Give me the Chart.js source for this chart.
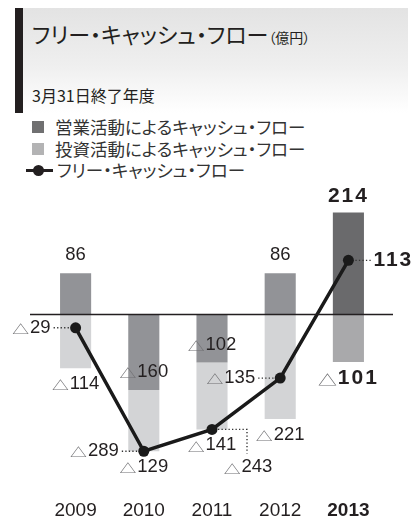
<!DOCTYPE html>
<html lang="ja">
<head>
<meta charset="utf-8">
<title>フリー・キャッシュ・フロー</title>
<script src="https://cdn.jsdelivr.net/npm/chart.js@4.4.1/dist/chart.umd.min.js"></script>
<style>
  html, body { margin: 0; padding: 0; background: #fff; }
  #wrap { position: relative; width: 416px; height: 522px; overflow: hidden;
          font-family: "Noto Sans CJK JP", sans-serif; color: #231f20; }
  #head { position: absolute; left: 15px; top: 8px; width: 393px; height: 105px;
          background: linear-gradient(to bottom, #e3e3e3 0%, #efefef 55%, #ffffff 100%); }
  #head .mark { position: absolute; left: 0; top: 0; width: 8px; height: 100%; background: #231f20; }
  #title { position: absolute; left: 17px; top: 11px; font-size: 22px; line-height: 28px;
           white-space: nowrap; font-feature-settings: "palt"; }
  #title small { font-size: 14px; }
  #sub { position: absolute; left: 17px; top: 76px; font-size: 16px; line-height: 22px; white-space: nowrap; }
  #legend .row { position: absolute; left: 0; height: 22px; line-height: 22px; font-size: 17.5px;
                 white-space: nowrap; font-feature-settings: "palt"; color: #333; }
  #legend .sw { position: absolute; left: 32px; top: 5px; width: 12px; height: 12px; }
  #chart { position: absolute; left: 0; top: 0; }
</style>
</head>
<body>
<div id="wrap">
  <div id="head">
    <div class="mark"></div>
    <div id="title">フリー・キャッシュ・フロー<small>（億円）</small></div>
    <div id="sub">3月31日終了年度</div>
  </div>
  <div id="legend"></div>
  <canvas id="chart" width="416" height="522"></canvas>
</div>
<script>
const years = ['2009', '2010', '2011', '2012', '2013'];
const operatingCF = [86, -160, -102, 86, 214];
const investingCF = [-114, -129, -141, -221, -101];
const freeCF = [-29, -289, -243, -135, 113];
const seriesNames = ['営業活動によるキャッシュ・フロー', '投資活動によるキャッシュ・フロー', 'フリー・キャッシュ・フロー'];

// last year is emphasised (darker bars, bold numbers)
const highlightIdx = 4;
// where the free cash flow number sits around its point
const freeLabelSide = ['left', 'left', 'elbow', 'left', 'right'];

const NUM_FONT = '"Liberation Sans", Arial, sans-serif';
const JP_FONT = '"Noto Sans CJK JP", sans-serif';
const INK = '#231f20';

const opColors = years.map((_, i) => i === highlightIdx ? '#6a6a6c' : '#929397');
const invColors = years.map((_, i) => i === highlightIdx ? '#a9a9ab' : '#d3d4d6');

// legend (html, like the printed report)
document.getElementById('legend').innerHTML = `
  <div class="row" style="top:116px"><span class="sw" style="background:#707071"></span><span style="position:absolute;left:55px">${seriesNames[0]}</span></div>
  <div class="row" style="top:138px"><span class="sw" style="background:#b3b3b4"></span><span style="position:absolute;left:55px">${seriesNames[1]}</span></div>
  <div class="row" style="top:159px">
    <span style="position:absolute;left:26px;top:10px;width:27px;height:3px;background:${INK}"></span>
    <span style="position:absolute;left:33px;top:6px;width:11px;height:11px;border-radius:50%;background:${INK}"></span>
    <span style="position:absolute;left:57px">${seriesNames[2]}</span>
  </div>`;

// value with the Japanese △ minus sign
function drawValue(ctx, v, x, y, align, bold) {
  const num = String(Math.abs(v));
  const numFont = bold ? `bold 21px ${NUM_FONT}` : `18.5px ${NUM_FONT}`;
  const triSize = bold ? 14 : 12.5;
  const triScale = 1.35;
  const spacing = bold ? '2px' : '0px';
  ctx.save();
  ctx.textBaseline = 'middle';
  ctx.textAlign = 'left';
  ctx.font = numFont;
  ctx.letterSpacing = spacing;
  const nw = ctx.measureText(num).width;
  let tw = 0;
  if (v < 0) {
    ctx.letterSpacing = '0px';
    ctx.font = `${triSize}px ${JP_FONT}`;
    tw = ctx.measureText('△').width * triScale + 1;
  }
  const total = tw + nw;
  const x0 = align === 'center' ? x - total / 2 : align === 'right' ? x - total : x;
  if (v < 0) {
    ctx.save();
    ctx.translate(x0, y + 1.5);
    ctx.scale(triScale, 1);
    ctx.fillStyle = '#707073';
    ctx.fillText('△', 0, 0);
    ctx.restore();
  }
  ctx.font = numFont;
  ctx.letterSpacing = spacing;
  ctx.fillStyle = INK;
  ctx.fillText(num, x0 + tw, y);
  ctx.restore();
}

function dotted(ctx, pts) {
  ctx.save();
  ctx.strokeStyle = '#333';
  ctx.lineWidth = 1.4;
  ctx.setLineDash([1.3, 2.2]);
  ctx.beginPath();
  ctx.moveTo(pts[0][0], pts[0][1]);
  pts.slice(1).forEach(p => ctx.lineTo(p[0], p[1]));
  ctx.stroke();
  ctx.restore();
}

const zeroLine = {
  id: 'zeroLine',
  afterDatasetsDraw(chart) {
    const ctx = chart.ctx;
    const y0 = Math.round(chart.scales.y.getPixelForValue(0)) + 0.5;
    ctx.save();
    ctx.strokeStyle = INK;
    ctx.lineWidth = 1.6;
    ctx.beginPath();
    ctx.moveTo(30, y0);
    ctx.lineTo(393, y0);
    ctx.stroke();
    ctx.restore();
  }
};

const valueLabels = {
  id: 'valueLabels',
  afterDraw(chart) {
    const ctx = chart.ctx;
    const opBars = chart.getDatasetMeta(0).data;
    const invBars = chart.getDatasetMeta(1).data;
    const pts = chart.getDatasetMeta(2).data;
    years.forEach((_, i) => {
      const bold = i === highlightIdx;
      // operating
      const ob = opBars[i];
      if (operatingCF[i] >= 0) {
        drawValue(ctx, operatingCF[i], ob.x, Math.min(ob.y, ob.base) - (bold ? 16 : 18), 'center', bold);
      } else {
        drawValue(ctx, operatingCF[i], ob.x, Math.max(ob.y, ob.base) - 18, 'center', bold);
      }
      // investing
      const ib = invBars[i];
      drawValue(ctx, investingCF[i], ib.x, Math.max(ib.y, ib.base) + 16, 'center', bold);
      // free cash flow
      const p = pts[i];
      const side = freeLabelSide[i];
      if (side === 'left') {
        dotted(ctx, [[p.x - 22, p.y], [p.x - 6, p.y]]);
        drawValue(ctx, freeCF[i], p.x - 25, p.y, 'right', bold);
      } else if (side === 'right') {
        dotted(ctx, [[p.x + 7, p.y], [p.x + 24, p.y]]);
        drawValue(ctx, freeCF[i], p.x + 25, p.y, 'left', bold);
      } else {
        dotted(ctx, [[p.x + 6, p.y], [p.x + 35, p.y], [p.x + 35, p.y + 24]]);
        drawValue(ctx, freeCF[i], p.x + 36, p.y + 38, 'center', bold);
      }
    });
  }
};

new Chart(document.getElementById('chart'), {
  type: 'bar',
  data: {
    labels: years,
    datasets: [
      {
        label: seriesNames[0],
        data: operatingCF,
        backgroundColor: opColors,
        stack: 'cf',
        order: 1,
        barPercentage: 0.456,
        categoryPercentage: 1
      },
      {
        label: seriesNames[1],
        data: investingCF,
        backgroundColor: invColors,
        stack: 'cf',
        order: 1,
        barPercentage: 0.456,
        categoryPercentage: 1
      },
      {
        type: 'line',
        label: seriesNames[2],
        data: freeCF,
        stack: 'free',
        order: 0,
        borderColor: '#1a1a1a',
        borderWidth: 3.5,
        tension: 0,
        pointRadius: 5.5,
        pointBorderWidth: 0,
        pointBackgroundColor: '#1a1a1a'
      }
    ]
  },
  options: {
    responsive: false,
    animation: false,
    layout: { padding: { left: 41.5, right: 33.5, top: 195.3, bottom: 0 } },
    scales: {
      x: {
        stacked: true,
        grid: { display: false, drawTicks: false },
        border: { display: false },
        ticks: {
          padding: 0,
          color: INK,
          font: c => ({ family: NUM_FONT, size: 19, weight: c.index === highlightIdx ? 'bold' : 'normal' })
        }
      },
      y: {
        stacked: true,
        display: false,
        min: -390,
        max: 250
      }
    },
    plugins: {
      legend: { display: false },
      tooltip: { enabled: false }
    }
  },
  plugins: [zeroLine, valueLabels]
});
</script>
</body>
</html>
